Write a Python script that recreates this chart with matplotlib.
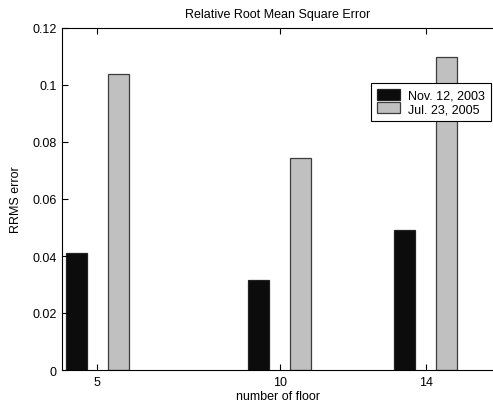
import numpy as np
import matplotlib.pyplot as plt

plt.rcParams['font.family'] = ['Liberation Sans', 'DejaVu Sans']

floors = [5, 10, 14]
rrms_2003 = [0.041, 0.0316, 0.049]
rrms_2005 = [0.104, 0.0744, 0.110]
labels = ['Nov. 12, 2003', 'Jul. 23, 2005']

fig = plt.figure(figsize=(4.93, 4.06), dpi=100)
ax = fig.add_axes([62/493, 1 - 371/406, 431/493, 342/406])

x = np.array(floors, dtype=float)
ancho = 0.58
ax.bar(x - 0.575, rrms_2003, width=ancho, color='#0c0c0c', edgecolor='#222222',
       linewidth=0.9, label=labels[0])
ax.bar(x + 0.575, rrms_2005, width=ancho, color='#c0c0c0', edgecolor='#3c3c3c',
       linewidth=0.9, label=labels[1])

ax.set_xlim(4.03, 15.84)
ax.set_ylim(0, 0.12)
ax.set_xticks(floors)
ax.set_yticks([0, 0.02, 0.04, 0.06, 0.08, 0.1, 0.12])
ax.set_yticklabels(['0', '0.02', '0.04', '0.06', '0.08', '0.1', '0.12'])
ax.tick_params(direction='in', length=4, width=0.8, labelsize=9, top=True, pad=4)
ax.spines['right'].set_visible(False)
for s in ['left', 'top', 'bottom']:
    ax.spines[s].set_linewidth(0.8)

ax.set_title('Relative Root Mean Square Error', fontsize=9, pad=8)
ax.set_xlabel('number of floor', fontsize=9, labelpad=2)
ax.set_ylabel('RRMS error', fontsize=9, labelpad=7)

leg = ax.legend(loc='upper right', bbox_to_anchor=(0.995, 0.839), fontsize=9,
                frameon=True, fancybox=False, edgecolor='black', framealpha=1,
                borderpad=0.45, handlelength=1.85, handleheight=1.0,
                handletextpad=0.65, labelspacing=0.05, borderaxespad=0)
leg.get_frame().set_linewidth(0.8)

fig.savefig('out.png', dpi=100)
